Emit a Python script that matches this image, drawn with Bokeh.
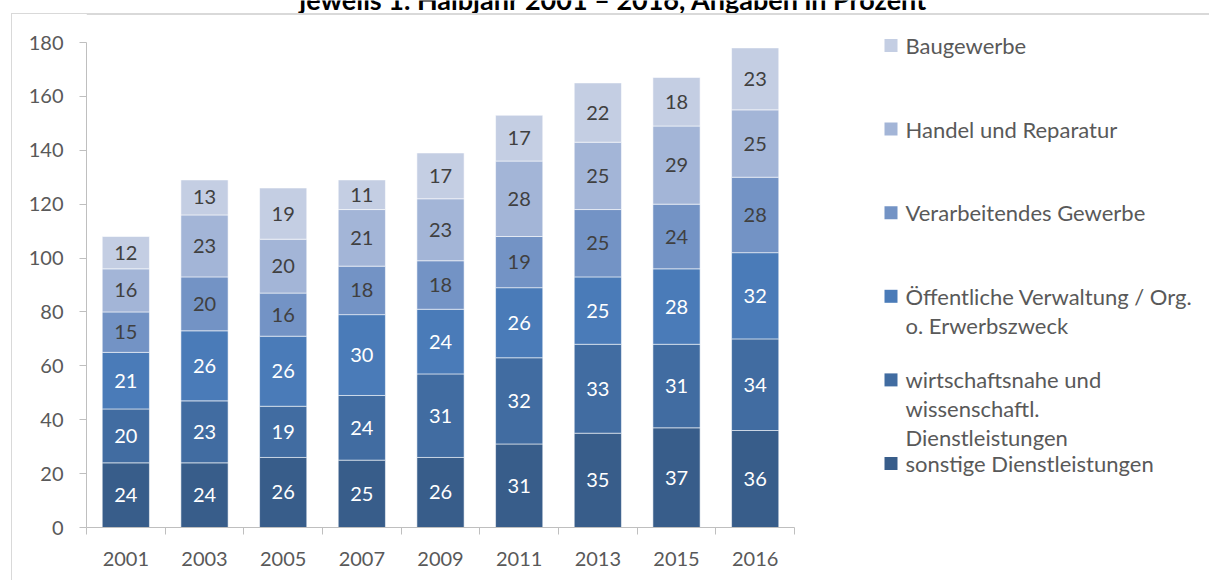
import numpy as np
from bokeh.plotting import figure
from bokeh.models import FixedTicker, ColumnDataSource, Range1d, InlineStyleSheet
from bokeh.core.properties import value
from bokeh.embed import file_html
from bokeh.resources import INLINE

# ---------------- data ----------------
years = ["2001", "2003", "2005", "2007", "2009", "2011", "2013", "2015", "2016"]
sonstige = [24, 24, 26, 25, 26, 31, 35, 37, 36]
wirtschaftsnahe = [20, 23, 19, 24, 31, 32, 33, 31, 34]
oeffentlich = [21, 26, 26, 30, 24, 26, 25, 28, 32]
verarbeitend = [15, 20, 16, 18, 18, 19, 25, 24, 28]
handel = [16, 23, 20, 21, 23, 28, 25, 29, 25]
bau = [12, 13, 19, 11, 17, 17, 22, 18, 23]
series_names = [
    "sonstige Dienstleistungen",
    "wirtschaftsnahe und\nwissenschaftl.\nDienstleistungen",
    "Öffentliche Verwaltung / Org.\no. Erwerbszweck",
    "Verarbeitendes Gewerbe",
    "Handel und Reparatur",
    "Baugewerbe",
]
y_ticks = [0, 20, 40, 60, 80, 100, 120, 140, 160, 180]
title_text = "jeweils 1. Halbjahr 2001 – 2016, Angaben in Prozent"

# ---------------- styles / layout ----------------
colors = ["#385D8A", "#416CA1", "#4A7BB8", "#7393C5", "#A3B5D7", "#C4CEE3"]
label_colors = ["white", "white", "white", "#404040", "#404040", "#404040"]
FONT = "Lato"
GREY = "#595959"
AXIS_GREY = "#BFBFBF"
BORDER_GREY = "#D9D9D9"

W, H = 1209, 580
FL, FR, FT, FB = 86, 0, 0, 53
AXIS_TOP = 42            # canvas y of the value 180
YMAX = 180
n = len(years)
AXIS_PX = 708.0
frame_w = W - FL - FR
frame_h = H - FT - FB
px_x = AXIS_PX / n
px_y = (H - FB - AXIS_TOP) / YMAX
xr_end = frame_w / px_x
yr_end = frame_h / px_y


def cx(canvas_x):
    return (canvas_x - FL) / px_x


def cy(canvas_y):
    return (H - FB - canvas_y) / px_y


p = figure(width=W, height=H, x_range=Range1d(0, xr_end), y_range=Range1d(0, yr_end),
           output_backend="svg", toolbar_location=None,
           min_border_left=FL, min_border_right=FR, min_border_top=FT, min_border_bottom=FB)
p.outline_line_color = None
p.xgrid.visible = False
p.ygrid.visible = False
p.background_fill_color = "white"
p.border_fill_color = "white"
p.stylesheets = [InlineStyleSheet(css=(
    ":host{position:relative;}"
    ":host::after{content:'';position:absolute;left:11px;top:13px;right:0;bottom:0;"
    "border-left:1px solid " + BORDER_GREY + ";border-top:1px solid " + BORDER_GREY + ";"
    "pointer-events:none;box-sizing:border-box;}"))]

# chart title, clipped at the top edge like the original, and top border line
p.text(x=[cx(613)], y=[cy(-1.5)], text=[title_text], text_align="center",
       text_baseline="alphabetic", text_color="black", text_font=value(FONT),
       text_font_style="bold", text_font_size="27px")
p.hspan(y=[cy(13.5)], line_color=BORDER_GREY, line_width=1)

xs = [i + 0.5 for i in range(n)]
keys = ["s0", "s1", "s2", "s3", "s4", "s5"]
vals = np.array([sonstige, wirtschaftsnahe, oeffentlich, verarbeitend, handel, bau], dtype=float)
src = ColumnDataSource(dict(x=xs, **{k: list(v) for k, v in zip(keys, vals)}))
p.vbar_stack(keys, x="x", width=0.6, source=src, fill_color=colors,
             line_color="white", line_alpha=0.55, line_width=1)

cum = np.cumsum(vals, axis=0)
mid = cum - vals / 2
for k in range(len(keys)):
    p.text(x=xs, y=list(mid[k]), text=[str(int(v)) for v in vals[k]],
           text_align="center", text_baseline="middle", text_color=label_colors[k],
           text_font=value(FONT), text_font_size="20px")

# x axis: labels at centres, ticks between categories
p.xaxis.bounds = (0, n)
p.xaxis.ticker = FixedTicker(ticks=xs, minor_ticks=list(range(n + 1)))
p.xaxis.major_label_overrides = {x: y for x, y in zip(xs, years)}
p.xaxis.major_tick_out = 0
p.xaxis.major_tick_in = 0
p.xaxis.minor_tick_out = 7
p.xaxis.minor_tick_in = 0
p.xaxis.major_label_standoff = 17

p.yaxis.bounds = (0, YMAX)
p.yaxis.ticker = FixedTicker(ticks=y_ticks, minor_ticks=[])
p.yaxis.major_tick_out = 7
p.yaxis.major_tick_in = 0
p.yaxis.minor_tick_out = 0
p.yaxis.major_label_standoff = 16

for ax in (p.xaxis, p.yaxis):
    ax.axis_line_color = AXIS_GREY
    ax.major_tick_line_color = AXIS_GREY
    ax.minor_tick_line_color = AXIS_GREY
    ax.major_label_text_font = FONT
    ax.major_label_text_font_size = "20px"
    ax.major_label_text_color = GREY
    ax.major_label_text_font_style = "normal"

# legend (drawn manually to allow multi-line labels)
LEG_TOP, LEG_STEP, LINE_STEP = 45, 83.6, 29
sq_x = cx(890.5)
tx_x = cx(905)
sq_y, t_x, t_y, t_txt = [], [], [], []
leg_colors = []
for row, k in enumerate(reversed(range(len(keys)))):
    y0 = LEG_TOP + row * LEG_STEP
    sq_y.append(cy(y0))
    leg_colors.append(colors[k])
    for j, line in enumerate(series_names[k].split("\n")):
        t_x.append(tx_x)
        t_y.append(cy(y0 + j * LINE_STEP))
        t_txt.append(line)
p.scatter(x=[sq_x] * len(sq_y), y=sq_y, marker="square", size=13, fill_color=leg_colors, line_color=None)
p.text(x=t_x, y=t_y, text=t_txt, text_align="left", text_baseline="middle",
       text_color=GREY, text_font=value(FONT), text_font_size="22px")

open("out.html", "w").write(file_html(p, INLINE))
